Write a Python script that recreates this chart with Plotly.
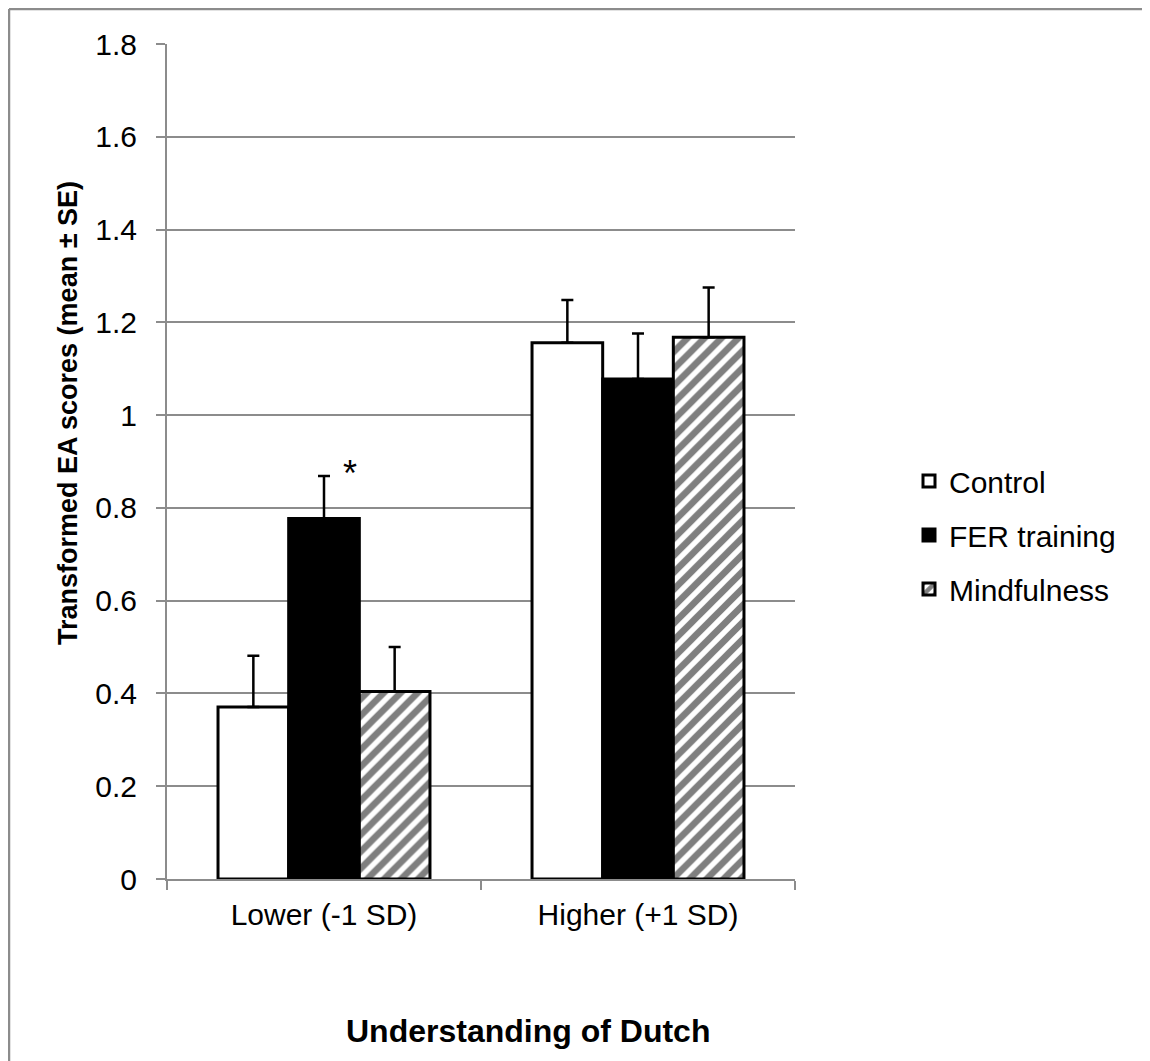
import plotly.graph_objects as go

categories = ["Lower (-1 SD)", "Higher (+1 SD)"]
groups = ["Control", "FER training", "Mindfulness"]
means = {
    "Control": [0.371, 1.156],
    "FER training": [0.777, 1.078],
    "Mindfulness": [0.404, 1.168],
}
se = {
    "Control": [0.110, 0.092],
    "FER training": [0.092, 0.098],
    "Mindfulness": [0.096, 0.107],
}
y_ticks = [0, 0.2, 0.4, 0.6, 0.8, 1, 1.2, 1.4, 1.6, 1.8]
y_tick_text = ["0", "0.2", "0.4", "0.6", "0.8", "1", "1.2", "1.4", "1.6", "1.8"]

FONT = "Liberation Sans, Arial, sans-serif"
GRID = "#8c8c8c"

# page offset of the figure inside the browser body
O = 8
W, H = 1150 - O, 1061 - O
# plot area in page pixels
L, R, T, B = 167, 795, 44, 879


def px(x):
    return (x - L) / (R - L)


def py(y):
    return (B - y) / (B - T)


styles = {
    "Control": dict(color="white"),
    "FER training": dict(color="black"),
    "Mindfulness": dict(color="white",
                        pattern=dict(shape="/", fgcolor="black", bgcolor="white",
                                     size=12, solidity=0.55, fillmode="overlay")),
}

fig = go.Figure()
for i, g in enumerate(groups):
    m = dict(styles[g])
    m["line"] = dict(color="black", width=3)
    fig.add_trace(go.Bar(
        name=g, x=categories, y=means[g], marker=m,
        legendgroup=g,
        error_y=dict(type="data", symmetric=False, array=se[g],
                     arrayminus=[0] * len(se[g]),
                     color="black", thickness=2.5, width=6),
    ))

fig.add_annotation(x=categories[0], y=0.875, text="*", showarrow=False,
                   xshift=26, font=dict(family=FONT, size=36, color="black"))

fig.add_annotation(x=px(528), y=py(1031), xref="paper", yref="paper",
                   xanchor="center", yanchor="middle",
                   text="<b>Understanding of Dutch</b>", showarrow=False,
                   font=dict(family=FONT, size=32, color="black"))
fig.add_annotation(x=px(68), y=py(413), xref="paper", yref="paper",
                   xanchor="center", yanchor="middle",
                   text="<b>Transformed EA scores (mean ± SE)</b>", showarrow=False,
                   textangle=-90,
                   font=dict(family=FONT, size=27, color="black"))

# outer frame
fig.add_shape(type="line", xref="paper", yref="paper",
              x0=px(O + 1), x1=px(1170), y0=py(O + 1), y1=py(O + 1),
              line=dict(color=GRID, width=2.5))
fig.add_shape(type="line", xref="paper", yref="paper",
              x0=px(O + 1), x1=px(O + 1), y0=py(O + 1), y1=py(1080),
              line=dict(color=GRID, width=2.5))

fig.update_layout(
    width=W, height=H,
    margin=dict(l=L - O, r=1150 - R, t=T - O, b=1061 - B, autoexpand=False),
    paper_bgcolor="white", plot_bgcolor="white",
    barmode="group", bargap=0.325, bargroupgap=0,
    font=dict(family=FONT, size=30, color="black"),
    showlegend=True,
    legend=dict(x=px(909), y=py(535), xanchor="left", yanchor="middle",
                font=dict(family=FONT, size=30, color="black"),
                tracegroupgap=12, bgcolor="rgba(0,0,0,0)"),
    xaxis=dict(type="category", showline=True, linecolor=GRID, linewidth=2,
               ticks="outside", tickson="boundaries", ticklen=9,
               tickcolor=GRID, tickwidth=2, showgrid=False,
               ticklabelstandoff=8,
               tickfont=dict(family=FONT, size=30, color="black")),
    yaxis=dict(range=[0, 1.8], tickvals=y_ticks, ticktext=y_tick_text,
               showline=True, linecolor=GRID, linewidth=2,
               ticks="outside", ticklen=9, tickcolor=GRID, tickwidth=2,
               showgrid=True, gridcolor=GRID, gridwidth=2, zeroline=False,
               ticklabelstandoff=13,
               tickfont=dict(family=FONT, size=30, color="black")),
)

fig.write_html("out.html")
